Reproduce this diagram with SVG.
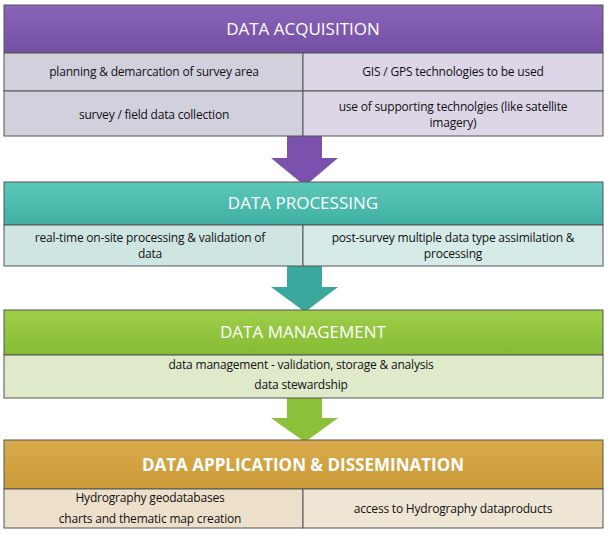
<svg xmlns="http://www.w3.org/2000/svg" width="611" height="539" viewBox="0 0 611 539">
<style>
.h{font-family:"Open Sans","Liberation Sans",sans-serif;font-size:17px;fill:#fff;text-anchor:middle}
.t{font-family:"Open Sans","Liberation Sans",sans-serif;font-size:12px;fill:#111;text-anchor:middle;letter-spacing:-0.2px}
.c{stroke:#555;stroke-width:1}
</style>
<defs>
<linearGradient id="gp" x1="0" y1="0" x2="0" y2="1"><stop offset="0" stop-color="#8a64b8"/><stop offset="1" stop-color="#7350a3"/></linearGradient>
<linearGradient id="gt" x1="0" y1="0" x2="0" y2="1"><stop offset="0" stop-color="#5cc8b9"/><stop offset="1" stop-color="#3fb0a3"/></linearGradient>
<linearGradient id="gg" x1="0" y1="0" x2="0" y2="1"><stop offset="0" stop-color="#9fcf4a"/><stop offset="1" stop-color="#86bb35"/></linearGradient>
<linearGradient id="go" x1="0" y1="0" x2="0" y2="1"><stop offset="0" stop-color="#d9ab4c"/><stop offset="1" stop-color="#c99a36"/></linearGradient>
</defs>
<g id="connectors">
<path d="M287,136 H322 V158 H338 L305,186 L271,158 H287 Z" fill="#7a52ad"/>
<path d="M287,266 H322 V287 H338 L305,312 L271,287 H287 Z" fill="#3aa89c"/>
<path d="M287,398 H322 V418 H338 L305,442 L271,418 H287 Z" fill="#8cc03b"/>
</g>
<g id="acq">
<rect x="4" y="5" width="599" height="48" fill="url(#gp)" class="c"/>
<text class="h" x="303" y="35">DATA ACQUISITION</text>
<rect x="4" y="53" width="299" height="38" fill="#d3d0dd" class="c"/>
<rect x="303" y="53" width="300" height="38" fill="#dcd6e6" class="c"/>
<rect x="4" y="91" width="299" height="45" fill="#d3d0dd" class="c"/>
<rect x="303" y="91" width="300" height="45" fill="#dcd6e6" class="c"/>
<text class="t" x="154" y="76">planning &amp; demarcation of survey area</text>
<text class="t" x="453" y="76">GIS / GPS technologies to be used</text>
<text class="t" x="154" y="119">survey / field data collection</text>
<text class="t" x="453" y="111">use of supporting technolgies (like satellite</text>
<text class="t" x="453" y="127">imagery)</text>
</g>
<g id="proc">
<rect x="4" y="182" width="599" height="43" fill="url(#gt)" class="c"/>
<text class="h" x="303" y="209">DATA PROCESSING</text>
<rect x="4" y="225" width="299" height="41" fill="#cfe5e1" class="c"/>
<rect x="303" y="225" width="300" height="41" fill="#d6ebe7" class="c"/>
<text class="t" x="150" y="242">real-time on-site processing  &amp; validation of</text>
<text class="t" x="150" y="258">data</text>
<text class="t" x="453" y="242">post-survey multiple data type assimilation &amp;</text>
<text class="t" x="453" y="258">processing</text>
</g>
<g id="mgmt">
<rect x="4" y="310" width="599" height="45" fill="url(#gg)" class="c"/>
<text class="h" x="303" y="338">DATA MANAGEMENT</text>
<rect x="4" y="355" width="599" height="43" fill="#dfeacb" class="c"/>
<text class="t" x="301" y="369">data management - validation, storage  &amp; analysis</text>
<text class="t" x="301" y="389">data stewardship</text>
</g>
<g id="app">
<rect x="4" y="440" width="599" height="49" fill="url(#go)" class="c"/>
<text class="h" x="303" y="471" font-weight="bold">DATA APPLICATION &amp; DISSEMINATION</text>
<rect x="4" y="489" width="299" height="39" fill="#ede0cb" class="c"/>
<rect x="303" y="489" width="300" height="39" fill="#efe5d5" class="c"/>
<text class="t" x="150" y="502">Hydrography geodatabases</text>
<text class="t" x="150" y="523">charts and thematic map creation</text>
<text class="t" x="453" y="513">access to Hydrography dataproducts</text>
</g>
</svg>
